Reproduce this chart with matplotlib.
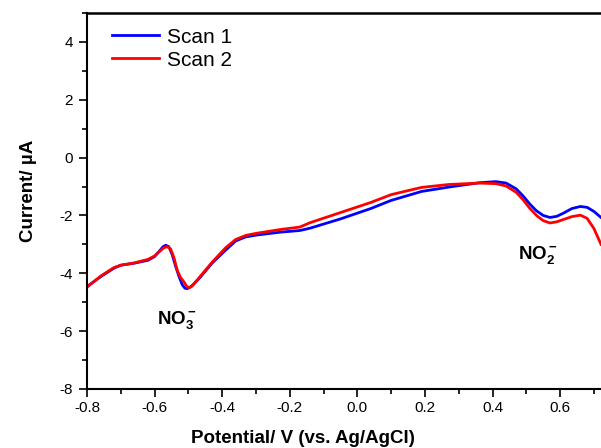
import matplotlib
matplotlib.use("Agg")
import matplotlib.pyplot as plt
from matplotlib.ticker import MultipleLocator

plt.rcParams['font.family'] = ['Liberation Sans', 'DejaVu Sans']
plt.rcParams['mathtext.fontset'] = 'custom'
plt.rcParams['mathtext.rm'] = 'Liberation Sans'
plt.rcParams['mathtext.bf'] = 'Liberation Sans:bold'

scan1_v = [-0.80, -0.76, -0.72, -0.70, -0.66, -0.62, -0.60, -0.585, -0.575, -0.567,
           -0.558, -0.548, -0.538, -0.528, -0.518, -0.51, -0.503, -0.495, -0.485, -0.466,
           -0.43, -0.39, -0.36, -0.33, -0.30, -0.23, -0.17, -0.14, -0.05, 0.04,
           0.10, 0.19, 0.27, 0.36, 0.41, 0.44, 0.47, 0.49, 0.51, 0.53,
           0.55, 0.57, 0.59, 0.61, 0.635, 0.66, 0.68, 0.70, 0.721]
scan1_i = [-4.46, -4.12, -3.82, -3.72, -3.65, -3.55, -3.42, -3.22, -3.08, -3.03,
           -3.08, -3.35, -3.75, -4.10, -4.40, -4.52, -4.53, -4.48, -4.38, -4.15,
           -3.65, -3.20, -2.88, -2.74, -2.68, -2.58, -2.52, -2.44, -2.12, -1.76,
           -1.48, -1.17, -1.02, -0.87, -0.83, -0.88, -1.08, -1.32, -1.60, -1.84,
           -2.00, -2.07, -2.03, -1.92, -1.76, -1.69, -1.72, -1.86, -2.07]

scan2_v = [-0.80, -0.76, -0.72, -0.70, -0.66, -0.62, -0.60, -0.585, -0.573, -0.563,
           -0.553, -0.543, -0.533, -0.523, -0.513, -0.505, -0.498, -0.49, -0.48, -0.466,
           -0.43, -0.39, -0.36, -0.33, -0.30, -0.23, -0.17, -0.14, -0.05, 0.04,
           0.10, 0.19, 0.27, 0.36, 0.41, 0.44, 0.47, 0.49, 0.51, 0.53,
           0.55, 0.57, 0.59, 0.61, 0.635, 0.66, 0.68, 0.70, 0.721]
scan2_i = [-4.48, -4.10, -3.80, -3.72, -3.64, -3.52, -3.40, -3.24, -3.12, -3.08,
           -3.15, -3.45, -3.90, -4.15, -4.30, -4.45, -4.50, -4.45, -4.32, -4.12,
           -3.62, -3.12, -2.83, -2.69, -2.62, -2.49, -2.40, -2.25, -1.90, -1.55,
           -1.28, -1.03, -0.93, -0.88, -0.90, -0.98, -1.20, -1.45, -1.75, -2.00,
           -2.18, -2.26, -2.22, -2.14, -2.04, -1.99, -2.10, -2.45, -3.00]

series_labels = ["Scan 1", "Scan 2"]
x_ticks = [-0.8, -0.6, -0.4, -0.2, 0.0, 0.2, 0.4, 0.6]
y_ticks = [-8, -6, -4, -2, 0, 2, 4]

fig = plt.figure(figsize=(6.01, 4.48), dpi=100)
ax = fig.add_axes([0.1448, 0.1317, 0.8552, 0.8393])

ax.plot(scan1_v, scan1_i, color='#0000FF', lw=2.0, label=series_labels[0])
ax.plot(scan2_v, scan2_i, color='#FF0000', lw=2.0, label=series_labels[1])

ax.set_xlim(-0.8, 0.721)
ax.set_ylim(-8, 5)
ax.set_xticks(x_ticks)
ax.set_xticklabels([f"{t:.1f}" for t in x_ticks])
ax.set_yticks(y_ticks)
ax.set_yticklabels([str(t) for t in y_ticks])
ax.xaxis.set_minor_locator(MultipleLocator(0.1))
ax.yaxis.set_minor_locator(MultipleLocator(1))
ax.tick_params(which='major', direction='out', length=6, width=1.2, labelsize=11)
ax.tick_params(axis='y', which='major', pad=4)
ax.tick_params(axis='x', which='major', pad=3)
ax.tick_params(which='minor', direction='out', length=3.5, width=1.2)
ax.spines['right'].set_visible(False)
for s in ['left', 'bottom']:
    ax.spines[s].set_linewidth(1.5)
ax.spines['top'].set_linewidth(1.8)

ax.set_xlabel("Potential/ V (vs. Ag/AgCl)", fontsize=13.5, fontweight='bold')
ax.set_ylabel("Current/ µA", fontsize=13.5, fontweight='bold')
ax.xaxis.set_label_coords(0.42, -0.108)
ax.yaxis.set_label_coords(-0.097, 0.528)

ax.text(-0.593, -5.75, r'$\mathbf{NO_3^-}$', fontsize=13.5)
ax.text(0.476, -3.49, r'$\mathbf{NO_2^-}$', fontsize=13.5)

ax.legend(loc='upper left', bbox_to_anchor=(0.02, 1.0), frameon=False, fontsize=15,
          handlelength=2.26, handletextpad=0.38, labelspacing=0.2, borderpad=0.2)

fig.savefig("out.png", dpi=100)
